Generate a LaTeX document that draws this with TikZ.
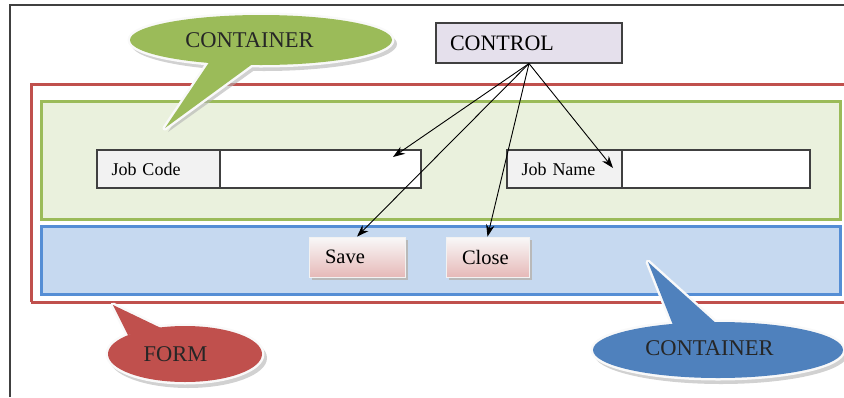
\documentclass[tikz,border=0pt]{standalone}
\usepackage{fontspec}
\setmainfont{Liberation Serif}
\usetikzlibrary{arrows.meta}
\definecolor{formred}{HTML}{C0504D}
\definecolor{contgreen}{HTML}{9BBB59}
\definecolor{greenfill}{HTML}{EAF1DD}
\definecolor{contblue}{HTML}{4F81BD}
\definecolor{bluestroke}{HTML}{558ED5}
\definecolor{bluefill}{HTML}{C6D9F0}
\definecolor{ctrlfill}{HTML}{E5E0EC}
\definecolor{boxline}{HTML}{404040}
\definecolor{labelfill}{HTML}{F2F2F2}
\definecolor{btnpink}{HTML}{E6B9B8}
\begin{document}
\begin{tikzpicture}[x=1pt,y=-1pt,
  fieldlabel/.style={draw=boxline, line width=1.1pt, fill=labelfill, minimum height=38pt, inner xsep=14.5pt, align=left, font=\fontsize{18}{20}\selectfont},
  fieldinput/.style={draw=boxline, line width=1.1pt, fill=white, minimum height=38pt},
  button/.style={draw=white!90!gray, line width=0.8pt, top color=white!95!gray, bottom color=btnpink, minimum height=40pt, inner xsep=16pt, align=left, font=\fontsize{20.5}{22}\selectfont},
  btnshadow/.style={fill=gray!55},
  ctrlbox/.style={draw=boxline, line width=1.1pt, fill=ctrlfill, minimum height=40pt, inner xsep=14pt, align=left, font=\fontsize{22}{24}\selectfont},
  bubbletext/.style={font=\fontsize{22.5}{24}\selectfont, text=black!85},
  pointer/.style={-{Stealth[length=12pt,width=8.5pt]}, line width=0.9pt, black}
]
\useasboundingbox (0,0) rectangle (844,397);
\clip (0,0) rectangle (844,397);

% outer frame
\draw[black!75, line width=1.5pt] (10,397) -- (10,5) -- (850,5);

% form
\draw[formred, line width=3pt] (31,302) -- (31,84) -- (850,84);
\draw[formred, line width=3pt] (31,302) -- (850,302);

% containers
\draw[contgreen, line width=3pt, fill=greenfill] (41,101) rectangle (840,219);
\draw[bluestroke, line width=3pt, fill=bluefill] (41,226) rectangle (840,294);

% fields
\node[fieldlabel, text width=94pt] (jcl) at (158.5,169) {Job Code};
\node[fieldinput, minimum width=201pt] (jci) at (320.5,169) {};
\node[fieldlabel, text width=86pt] (jnl) at (564.5,169) {Job Name};
\node[fieldinput, minimum width=188pt] (jni) at (716,169) {};

% buttons
\fill[btnshadow] (312,240) rectangle (408,280);
\fill[btnshadow] (449,240) rectangle (532,280);
\node[button, text width=64pt] (save) at (357,257) {Save};
\node[button, text width=51pt] (close) at (487.5,257) {Close};

% control
\node[ctrlbox, text width=158pt] (ctrl) at (529,43) {CONTROL};

\coordinate (jcin) at (393,157);
\coordinate (jnin) at (613,168);
\draw[pointer] (ctrl.south) -- (jcin);
\draw[pointer] (ctrl.south) -- (save.north);
\draw[pointer] (ctrl.south) -- (close.north);
\draw[pointer] (ctrl.south) -- (jnin);

% speech bubbles
% green container bubble
\fill[gray!60, opacity=0.6, shift={(3,4)}] (261,40) ellipse [x radius=133, y radius=27] (210,58) -- (260,60) -- (165,128) -- cycle;
\draw[white!95!gray, line width=5pt, line join=round] (261,40) ellipse [x radius=131, y radius=25] (212,58) -- (258,60) -- (165,128) -- cycle;
\fill[contgreen] (261,40) ellipse [x radius=131, y radius=25];
\fill[contgreen] (212,58) -- (258,60) -- (165,128) -- cycle;
\node[bubbletext] (gb) at (249.5,40) {CONTAINER};

% red form bubble
\fill[gray!60, opacity=0.6, shift={(3,4)}] (185,354) ellipse [x radius=79, y radius=30] (126,336) -- (165,327) -- (113,305) -- cycle;
\draw[white!95!gray, line width=5pt, line join=round] (185,354) ellipse [x radius=77, y radius=28] (128,335) -- (163,329) -- (113,305) -- cycle;
\fill[formred] (185,354) ellipse [x radius=77, y radius=28];
\fill[formred] (128,335) -- (163,329) -- (113,305) -- cycle;
\node[bubbletext] (rb) at (175.5,354) {FORM};

% blue container bubble
\fill[gray!60, opacity=0.6, shift={(3,4)}] (718,350) ellipse [x radius=127, y radius=30] (673,332) -- (720,326) -- (648,262) -- cycle;
\draw[white!95!gray, line width=5pt, line join=round] (718,350) ellipse [x radius=125, y radius=28] (675,330) -- (718,325) -- (648,262) -- cycle;
\fill[contblue] (718,350) ellipse [x radius=125, y radius=28];
\fill[contblue] (675,330) -- (718,325) -- (648,262) -- cycle;
\node[bubbletext] (bb) at (709.5,348) {CONTAINER};
\end{tikzpicture}
\end{document}
